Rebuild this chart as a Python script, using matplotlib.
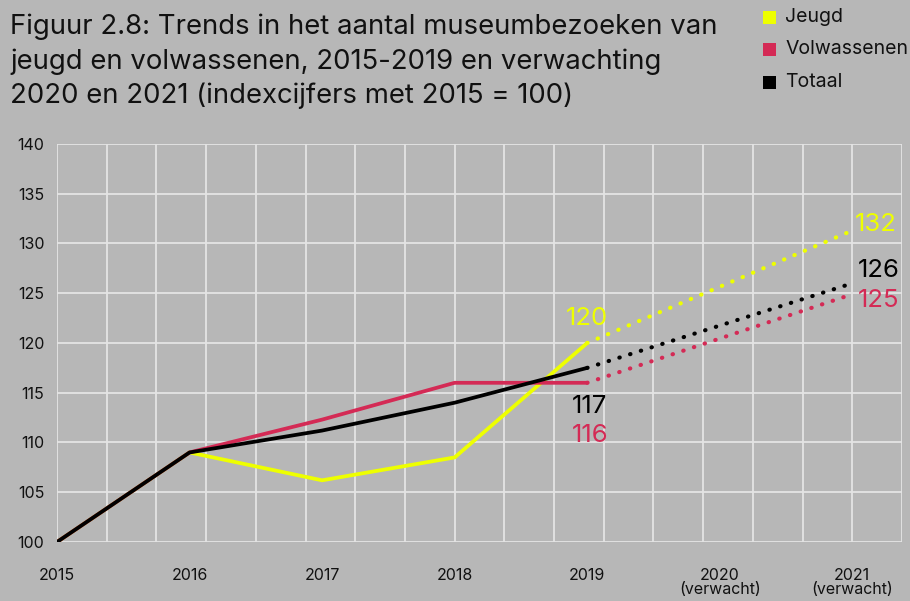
import matplotlib
matplotlib.use("Agg")
import matplotlib.pyplot as plt
import numpy as np

plt.rcParams['font.family'] = ['Inter', 'DejaVu Sans']

years = [2015, 2016, 2017, 2018, 2019]
forecast_years = [2019, 2021]
jeugd = [100, 109, 106.2, 108.5, 120]
jeugd_fc = [120, 131.3]
volw = [100, 109, 112.3, 116, 116]
volw_fc = [116, 124.9]
totaal = [100, 109, 111.2, 114, 117.5]
totaal_fc = [117.5, 126]
series_names = ['Jeugd', 'Volwassenen', 'Totaal']
colors = ['#eeff00', '#d42a55', '#000000']
xtick_labels = ['2015', '2016', '2017', '2018', '2019', '2020\n(verwacht)', '2021\n(verwacht)']
ytick_vals = [100, 105, 110, 115, 120, 125, 130, 135, 140]

bg = '#b7b7b7'
fig = plt.figure(figsize=(9.10, 6.01), dpi=100, facecolor=bg)
ax = fig.add_axes([57/910, 1-542/601, (902-57)/910, (542-144)/601], facecolor=bg)

xmin, xmax = 2015, 2015 + 17 * 0.375
ax.set_xlim(xmin, xmax)
ax.set_ylim(100, 140)

# grid
for gx in np.arange(xmin, xmax + 1e-6, 0.375):
    ax.axvline(gx, color='#e4e4e4', lw=1.3, zorder=0)
for gy in ytick_vals:
    ax.axhline(gy, color='#e4e4e4', lw=1.3, zorder=0)
for s in ax.spines.values():
    s.set_visible(False)

ax.set_yticks(ytick_vals)
ax.set_yticklabels([str(v) for v in ytick_vals], fontsize=11.5)
ax.set_xticks(list(range(2015, 2022)))
ax.set_xticklabels(xtick_labels, fontsize=11.5, va='top', linespacing=0.92)
ax.tick_params(length=0, colors='#111111')
ax.tick_params(axis='x', pad=19)
ax.tick_params(axis='y', pad=9)

data = [(jeugd, jeugd_fc), (volw, volw_fc), (totaal, totaal_fc)]
for (vals, fc), c, name in zip(data, colors, series_names):
    ax.plot(years, vals, color=c, lw=2.7, solid_capstyle='round', solid_joinstyle='round', zorder=3)
    ax.plot(forecast_years, fc, color=c, lw=3.0, linestyle=(0, (0.1, 2.6)), dash_capstyle='round', zorder=3)

# value labels
lfs = 18.5
ax.text(2019.0, 122.5, '120', color=colors[0], fontsize=lfs, ha='center', va='center')
ax.text(2019.02, 113.6, '117', color=colors[2], fontsize=lfs, ha='center', va='center')
ax.text(2019.02, 110.75, '116', color=colors[1], fontsize=lfs, ha='center', va='center')
ax.text(2021.02, 131.9, '132', color=colors[0], fontsize=lfs, ha='left', va='center')
ax.text(2021.04, 127.3, '126', color=colors[2], fontsize=lfs, ha='left', va='center')
ax.text(2021.04, 124.3, '125', color=colors[1], fontsize=lfs, ha='left', va='center')

# title
fig.text(10/910, 1-14/601, 'Figuur 2.8: Trends in het aantal museumbezoeken van\n'
         'jeugd en volwassenen, 2015-2019 en verwachting\n'
         '2020 en 2021 (indexcijfers met 2015 = 100)',
         fontsize=19.8, ha='left', va='top', color='#111111', linespacing=1.38)

# legend
for i, (name, c) in enumerate(zip(series_names, colors)):
    yc = 1 - (17 + i * 32.5) / 601
    fig.patches.append(plt.Rectangle((763/910, yc - 6.5/601), 13/910, 13/601,
                                     transform=fig.transFigure, facecolor=c, edgecolor='none'))
    fig.text(785/910, yc, name, fontsize=14, ha='left', va='center', color='#111111')

fig.savefig('out.png', dpi=100, facecolor=bg)
